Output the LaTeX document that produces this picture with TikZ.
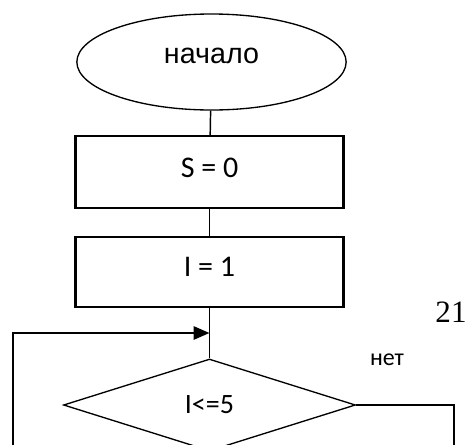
\documentclass[tikz,border=0pt]{standalone}
\usepackage{fontspec}
\setmainfont{Liberation Serif}
\newfontfamily\arialfont{Liberation Sans}
\newfontfamily\calfont{Carlito}
\usetikzlibrary{arrows.meta,shapes.geometric}

\begin{document}
\begin{tikzpicture}[x=0.75pt,y=-0.75pt,
    term/.style={ellipse,draw,line width=1pt,minimum width=202pt,minimum height=72pt,inner sep=0pt,text depth=9pt,font=\arialfont\fontsize{21.5}{24}\selectfont},
    block/.style={rectangle,draw,line width=1.6pt,minimum width=201pt,inner sep=0pt,text depth=7pt,font=\calfont\fontsize{22.5}{26}\selectfont},
    cond/.style={diamond,draw,line width=1pt,aspect=3.18,minimum width=219pt,minimum height=69pt,inner sep=0pt,font=\calfont\fontsize{21}{24}\selectfont},
    link/.style={line width=1.1pt},
    loopback/.style={line width=1.6pt,-{Triangle[length=12pt,width=10pt]}} ]
\useasboundingbox (0,0) rectangle (469,444);
\node[term] (start) at (211.5,62) {начало};
\node[block,minimum height=54pt] (s0) at (209.5,172) {S = 0};
\node[block,minimum height=52.5pt] (i1) at (209.5,272) {I = 1};
\node[cond] (check) at (209.5,405) {I<=5};
\coordinate (join) at (209.5,333);
\coordinate (backB) at (13,450);
\coordinate (exitB) at (454,450);
\node[font=\calfont\fontsize{18}{21}\selectfont] (no) at (387,360) {нет};
\node[font=\fontsize{23.3}{26}\selectfont,inner sep=0pt] (page) at (451,312) {21};
\draw[link] (start) -- (s0);
\draw[link] (s0) -- (i1);
\draw[link] (i1) -- (check);
\draw[loopback] (backB) |- (join);
\draw[link] (check.east) -| (exitB);
\end{tikzpicture}
\end{document}
